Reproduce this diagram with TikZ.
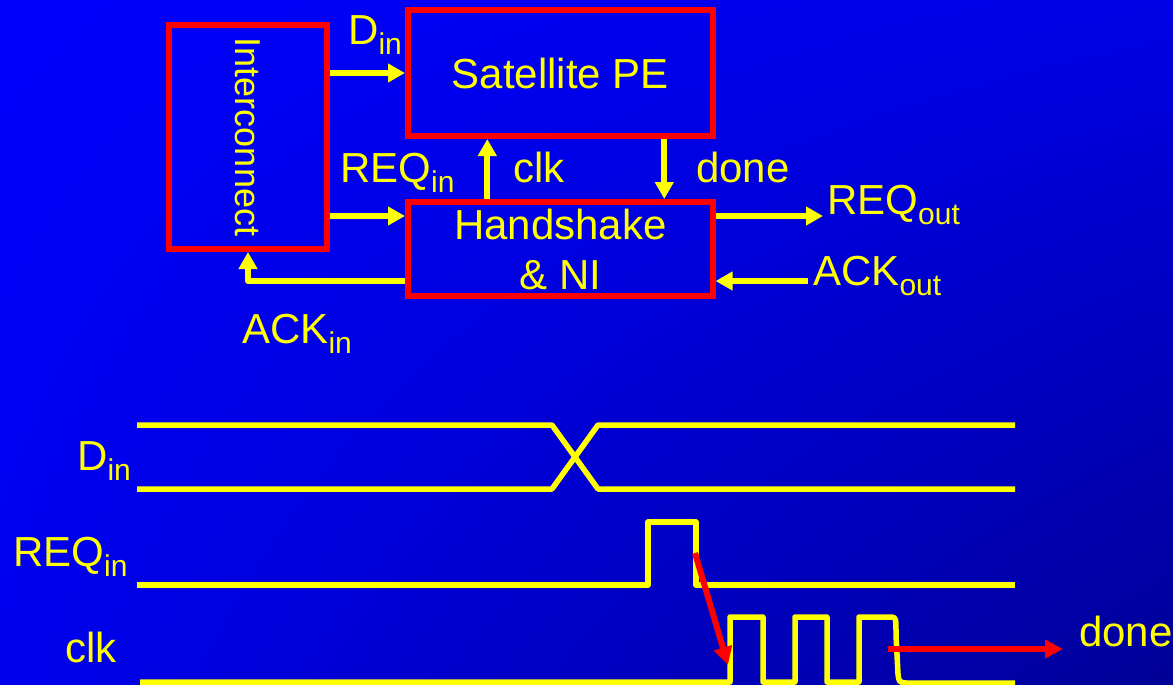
\documentclass[tikz,border=0pt]{standalone}
\usepackage{fontspec}
\setmainfont{Liberation Sans}
\usetikzlibrary{arrows.meta,calc,shadings}

\definecolor{slidered}{RGB}{255,0,0}
\definecolor{slideyellow}{RGB}{255,255,0}
\definecolor{bgul}{RGB}{0,0,252}
\definecolor{bgur}{RGB}{0,0,228}
\definecolor{bgll}{RGB}{0,0,238}
\definecolor{bglr}{RGB}{0,0,150}
\newcommand{\lo}[1]{\raisebox{-10pt}{\fontsize{30}{30}\selectfont #1}}

\begin{document}
\begin{tikzpicture}[line cap=round,line join=round,x=1pt,y=-1pt,
  box/.style={draw=slidered,line width=6pt,line join=miter,inner sep=0pt},
  yarrow/.style={draw=slideyellow,line width=6pt,line cap=butt,-{Triangle[length=17pt,width=18pt]}},
  rarrow/.style={draw=slidered,line width=6pt,line cap=butt,-{Triangle[length=18pt,width=18pt]}},
  wave/.style={draw=slideyellow,line width=5.5pt,line cap=butt},
  lbl/.style={text=slideyellow,anchor=base west,inner sep=0pt}]
\useasboundingbox (0,0) rectangle (1173,685);
\shade[upper left=bgul,upper right=bgur,lower left=bgll,lower right=bglr]
  (0,0) rectangle (1173,685);

\begin{scope}[font=\fontsize{42}{50}\selectfont,text=slideyellow]
% blocks
\node[box,minimum width=158.5pt,minimum height=224pt] (ic) at (248,137)
  {\fontsize{36}{36}\selectfont\rotatebox{-90}{Interconnect}};
\node[box,minimum width=304.6pt,minimum height=126pt] (pe) at (560.3,73) {Satellite PE};
\node[box,minimum width=304.6pt,minimum height=94pt,align=center] (hs) at (560.3,249) {Handshake\\\& NI};

\coordinate (reqa) at ($(hs.west)+(0,-33)$);
\coordinate (acka) at ($(hs.west)+(0,32)$);
\coordinate (reqout) at (823,216);
\coordinate (ackout) at (808,281);

\draw[yarrow] (ic.east |- pe.west) -- (pe.west);
\draw[yarrow] (ic.east |- reqa) -- (reqa);
\draw[yarrow] (acka) -| (ic.south);
\draw[yarrow] ([xshift=-73pt]hs.north) -- ([xshift=-73pt]pe.south);
\draw[yarrow] ([xshift=104pt]pe.south) -- ([xshift=104pt]hs.north);
\draw[yarrow] (hs.east |- reqout) -- (reqout);
\draw[yarrow] (ackout) -- (hs.east |- ackout);

\node[lbl] (ldin) at (348,45) {D\lo{in}};
\node[lbl] (lreqin) at (340,182) {REQ\lo{in}};
\node[lbl] (lclk) at (513,182) {clk};
\node[lbl] (ldone) at (696,182) {done};
\node[lbl] (lreqout) at (827,214) {REQ\lo{out}};
\node[lbl] (lackout) at (813,285) {ACK\lo{out}};
\node[lbl] (lackin) at (242,343) {ACK\lo{in}};

% timing
\node[lbl] (tdin) at (77,470) {D\lo{in}};
\node[lbl] (treqin) at (13,566) {REQ\lo{in}};
\node[lbl] (tclk) at (65,662) {clk};
\node[lbl] (tdone) at (1079,646) {done};
\end{scope}

\draw[wave] (137,425) -- (552,425) -- (598,489) -- (1015,489);
\draw[wave] (137,489) -- (552,489) -- (598,425) -- (1015,425);
\draw[wave] (137,585) -- (648,585) -- (648,522) -- (696,522) -- (696,585) -- (1015,585);
\draw[wave] (140,682) -- (730,682) -- (730,617) -- (763,617) -- (763,682) -- (795,682)
  -- (795,617) -- (827,617) -- (827,682) -- (859,682) -- (859,617) -- (892,617)
  .. controls (896,618) .. (896,635) -- (898,674) .. controls (899,682) .. (906,683) -- (1015,683);

\coordinate (reqfall) at (695,553);
\coordinate (clkrise) at (728,665);
\coordinate (clkend) at (888,649);
\coordinate (doneto) at (1063,649);
\draw[rarrow] (reqfall) -- (clkrise);
\draw[rarrow] (clkend) -- (doneto);
\end{tikzpicture}
\end{document}
